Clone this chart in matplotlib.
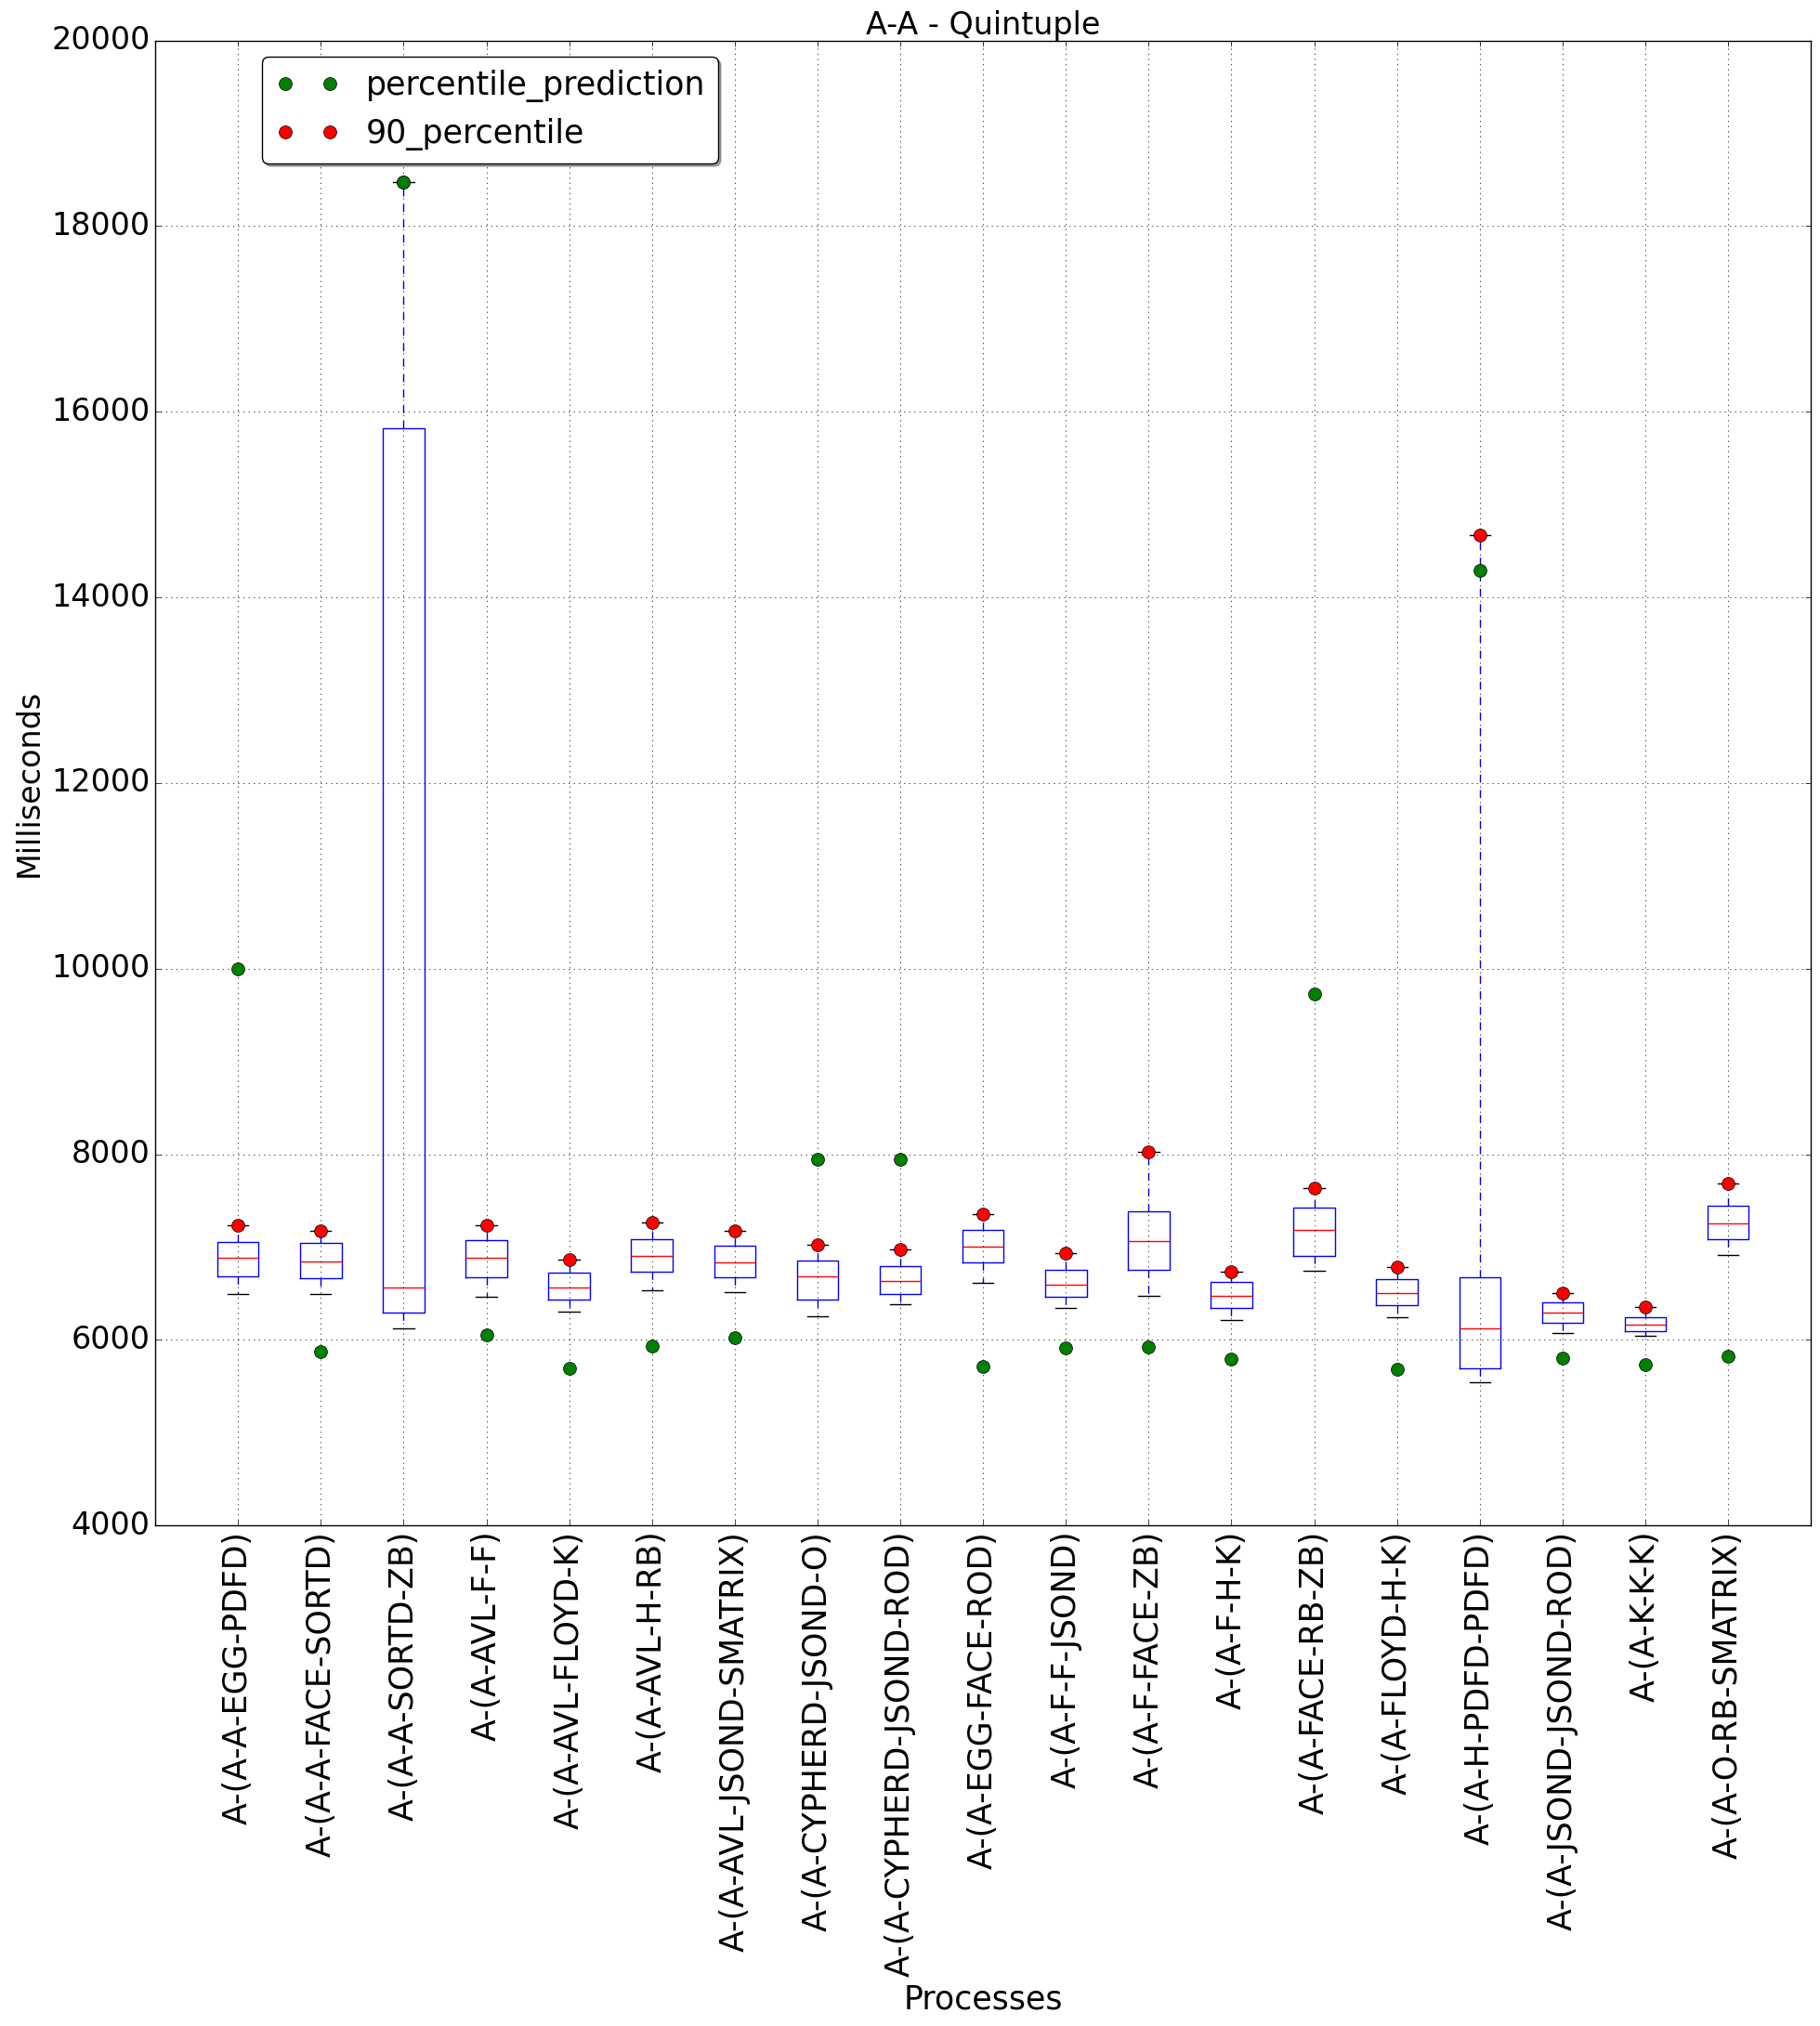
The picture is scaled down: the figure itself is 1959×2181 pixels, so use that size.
import matplotlib
matplotlib.use("Agg")
import matplotlib.pyplot as plt

plt.style.use('classic')
plt.rcParams['font.family'] = ['DejaVu Sans']
plt.rcParams['figure.facecolor'] = 'white'
plt.rcParams['savefig.facecolor'] = 'white'

processes = [
    "A-(A-A-EGG-PDFD)", "A-(A-A-FACE-SORTD)", "A-(A-A-SORTD-ZB)", "A-(A-AVL-F-F)",
    "A-(A-AVL-FLOYD-K)", "A-(A-AVL-H-RB)", "A-(A-AVL-JSOND-SMATRIX)",
    "A-(A-CYPHERD-JSOND-O)", "A-(A-CYPHERD-JSOND-ROD)", "A-(A-EGG-FACE-ROD)",
    "A-(A-F-F-JSOND)", "A-(A-F-FACE-ZB)", "A-(A-F-H-K)", "A-(A-FACE-RB-ZB)",
    "A-(A-FLOYD-H-K)", "A-(A-H-PDFD-PDFD)", "A-(A-JSOND-JSOND-ROD)",
    "A-(A-K-K-K)", "A-(A-O-RB-SMATRIX)",
]
whisker_low = [6500, 6500, 6120, 6460, 6300, 6540, 6520, 6250, 6380, 6620,
               6340, 6470, 6210, 6750, 6240, 5540, 6070, 6040, 6920]
q1 = [6690, 6670, 6290, 6680, 6430, 6735, 6680, 6430, 6500, 6840,
      6460, 6760, 6340, 6910, 6370, 5690, 6180, 6090, 7090]
median = [6890, 6850, 6570, 6890, 6570, 6910, 6840, 6690, 6640, 7010,
          6600, 7070, 6470, 7190, 6510, 6120, 6290, 6160, 7260]
q3 = [7060, 7050, 15820, 7080, 6730, 7090, 7020, 6860, 6800, 7190,
      6760, 7390, 6630, 7430, 6660, 6680, 6400, 6240, 7450]
whisker_high = [7238, 7178, 18470, 7238, 6868, 7268, 7178, 7024, 6978, 7358,
                6938, 8027, 6739, 7637, 6789, 14675, 6509, 6359, 7687]
percentile_90 = [7238, 7178, 18470, 7238, 6868, 7268, 7178, 7024, 6978, 7358,
                 6938, 8027, 6739, 7637, 6789, 14675, 6509, 6359, 7687]
percentile_prediction = [10000, 5870, 18470, 6053, 5690, 5936, 6020, 7947, 7947, 5710,
                         5910, 5920, 5790, 9730, 5681, 14292, 5800, 5730, 5820]

positions = list(range(1, len(processes) + 1))

stats = []
for i in range(len(processes)):
    stats.append(dict(whislo=whisker_low[i], q1=q1[i], med=median[i], q3=q3[i],
                      whishi=whisker_high[i], fliers=[], label=processes[i]))

fig = plt.figure(figsize=(19.59, 21.81), dpi=100)
ax = fig.add_axes([0.0853, 0.247, 0.9097, 0.733])

ax.bxp(stats, positions=positions, widths=0.5, showfliers=False)

ax.plot(positions, percentile_90, 'o', color='red', markersize=10,
        markeredgecolor='black', markeredgewidth=0.5, linestyle='none',
        label='90_percentile', zorder=3)
ax.plot(positions, percentile_prediction, 'o', color='green', markersize=10,
        markeredgecolor='black', markeredgewidth=0.5, linestyle='none',
        label='percentile_prediction', zorder=4)

ax.set_xlim(0, 20)
ax.set_ylim(4000, 20000)
ax.set_yticks([4000, 6000, 8000, 10000, 12000, 14000, 16000, 18000, 20000])
ax.set_xticks(positions)
ax.set_xticklabels(processes, rotation=90, fontsize=25)
ax.tick_params(axis='y', labelsize=24)
ax.grid(True)
ax.set_title("A-A - Quintuple", fontsize=24)
ax.set_xlabel("Processes", fontsize=25)
ax.set_ylabel("Milliseconds", fontsize=24)

handles, labels = ax.get_legend_handles_labels()
order = [1, 0]
ax.legend([handles[k] for k in order], [labels[k] for k in order],
          loc='upper left', bbox_to_anchor=(0.055, 1.0), numpoints=2,
          fontsize=25, fancybox=True, shadow=True)

fig.savefig("out.png", dpi=100)
